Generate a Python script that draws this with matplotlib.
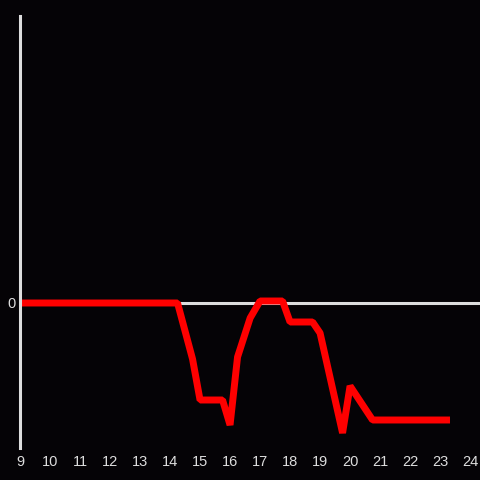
import matplotlib.pyplot as plt

# hora do dia e valor
horas = [9.0, 14.25, 14.75, 15.0, 15.75, 16.0, 16.25, 16.67, 17.0, 17.75, 18.0,
         18.75, 19.0, 19.75, 20.0, 20.75, 23.33]
valores = [0, 0, -5.6, -9.7, -9.7, -12.2, -5.4, -1.5, 0.2, 0.2, -1.9,
           -1.9, -3.0, -13.0, -8.3, -11.7, -11.7]
ticks_x = list(range(9, 25))

fundo = "#050306"
cinza = "#dddddd"

fig = plt.figure(figsize=(4.8, 4.8), dpi=100, facecolor=fundo)
ax = fig.add_axes([20/480, 32/480, 460/480, 432/480], facecolor=fundo)

ax.axhline(0, color=cinza, linewidth=2.2, zorder=1)
ax.plot(horas, valores, color="#ff0000", linewidth=5, solid_capstyle="butt",
        solid_joinstyle="bevel", zorder=2)

ax.set_xlim(9, 24.33)
ax.set_ylim(-14.5, 28.7)
ax.set_xticks(ticks_x)
ax.set_yticks([0])

for s in ["top", "right", "bottom"]:
    ax.spines[s].set_visible(False)
ax.spines["left"].set_color(cinza)
ax.spines["left"].set_linewidth(2.2)

ax.tick_params(length=0, colors=cinza, labelsize=10.5)
ax.tick_params(axis="x", pad=5)
ax.tick_params(axis="y", pad=3)
for lbl in ax.get_xticklabels() + ax.get_yticklabels():
    lbl.set_fontfamily("Liberation Sans")

fig.savefig("out.png", dpi=100, facecolor=fundo)
